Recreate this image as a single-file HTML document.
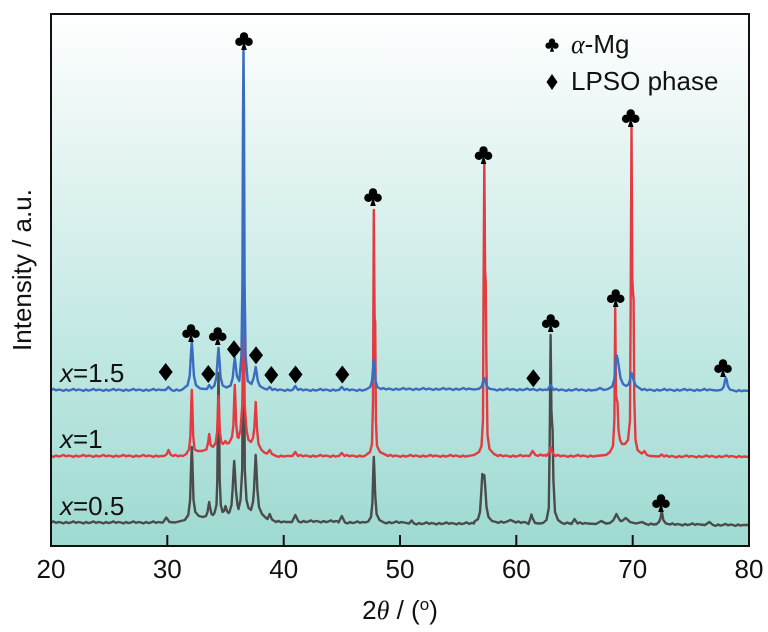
<!DOCTYPE html>
<html><head><meta charset="utf-8">
<style>
html,body{margin:0;padding:0;background:#fff;}
svg{display:block;font-family:"Liberation Sans",Arial,sans-serif;}
</style></head>
<body>
<svg width="768" height="632" viewBox="0 0 768 632" xmlns="http://www.w3.org/2000/svg" xmlns:xlink="http://www.w3.org/1999/xlink">
<defs>
<linearGradient id="g" x1="0" y1="0" x2="0" y2="1">
<stop offset="0" stop-color="#ffffff"/>
<stop offset="0.25" stop-color="#e6f5f3"/>
<stop offset="0.6" stop-color="#c4e9e4"/>
<stop offset="1" stop-color="#9edad1"/>
</linearGradient>
<g id="cl"><circle cx="0" cy="-4.6" r="4.2"/><circle cx="-4.6" cy="0.8" r="4.2"/><circle cx="4.6" cy="0.8" r="4.2"/><circle cx="0" cy="0" r="2.5"/><path d="M0,0 L-2.8,9 L2.8,9Z"/></g>
<path id="dm" d="M0,-9 L7,0 L0,9 L-7,0Z"/>
</defs>
<rect x="51" y="14" width="698" height="532" fill="url(#g)"/>
<g fill="none" stroke-width="2.4" stroke-linejoin="round">
<!-- black x=0.5 -->
<path stroke="#4b4b4b" d="M51,522.5 l2.5,-1.1 2.5,1.5 2.5,-0.9 2.5,0.5 l2.5,0.9 2.5,-1.4 2.5,1.1 2.5,-0.6 l2.5,-1.1 2.5,1.5 2.5,-0.9 2.5,0.5 l2.5,0.9 2.5,-1.4 2.5,1.1 2.5,-0.6 l2.5,-1.1 2.5,1.5 2.5,-0.9 2.5,0.5 l2.5,0.9 2.5,-1.4 2.5,1.1 2.5,-0.6 l2.5,-1.1 2.5,1.5 2.5,-0.9 2.5,0.5 l2.5,0.9 2.5,-1.4 2.5,1.1 2.5,-0.6 l2.5,-1.1 2.5,1.5 2.5,-0.9 2.5,0.5 l2.5,0.9 2.5,-1.4 2.5,1.1 2.5,-0.6 l2.5,-1.1 2.5,1.5 2.5,-0.9 2.5,0.5 L163,522.5 L166.2,517.5 L169.5,522 L175,522.5 L184.8,520 L188.3,515 L190.1,500 L191.2,462 L191.8,447 L192.4,462 L193.5,500 L195.3,512 L198.8,516 L203,517 L206,516 L207.5,512 L208.5,506 L209.2,502 L210,507 L211.5,514 L213,515 L214.5,513 L216.5,505 L217.3,480 L218.1,400 L218.5,373 L218.9,400 L219.7,480 L220.8,505 L222.5,512 L224,511 L225.5,506 L227,511 L228.5,513 L229.5,512 L231.5,505 L232.6,490 L233.6,470 L234.2,461 L234.8,470 L235.9,490 L237.5,505 L238.5,509 L240.5,500 L242.2,470 L243.1,330 L243.5,272 L243.9,330 L244.8,470 L246.5,500 L248.5,508 L251,510 L253,502 L254,490 L255.1,466 L255.7,455 L256.3,466 L257.4,490 L259,507 L262,514 L266,518 L267.5,519 L269.7,514 L272,519.5 L276,522 l2.5,-1.1 2.5,1.5 2.5,-0.9 2.5,0.5 L292,522 L295.3,515 L298.5,521.5 l2.5,0.9 2.5,-1.4 2.5,1.1 2.5,-0.6 l2.5,-1.1 2.5,1.5 2.5,-0.9 2.5,0.5 l2.5,0.9 2.5,-1.4 2.5,1.1 2.5,-0.6 l2.5,-1.1 2.5,1.5 2.5,-0.9 2.5,0.5 L338.5,522.5 L341.8,516 L345,522.5 l2.5,0.9 2.5,-1.4 2.5,1.1 2.5,-0.6 l2.5,-1.1 2.5,1.5 2.5,-0.9 2.5,0.5 L368.2,521.5 L371,517 L372.4,503 L373.3,470 L373.8,457 L374.3,468 L375.2,495 L376.6,514 L379.4,520 L384,522.5 l2.5,0.9 2.5,-1.4 2.5,1.1 2.5,-0.6 l2.5,-1.1 2.5,1.5 2.5,-0.9 2.5,0.5 L409,523.5 L411.6,520.5 L414,523.5 l2.5,0.9 2.5,-1.4 2.5,1.1 2.5,-0.6 l2.5,-1.1 2.5,1.5 2.5,-0.9 2.5,0.5 l2.5,0.9 2.5,-1.4 2.5,1.1 2.5,-0.6 l2.5,-1.1 2.5,1.5 2.5,-0.9 2.5,0.5 l2.5,0.9 2.5,-1.4 2.5,1.1 2.5,-0.6 l2.5,-1.1 2.5,1.5 2.5,-0.9 2.5,0.5 L474,522 L478,519 L480,512 L481.3,492 L482.3,474 L483.3,478 L484.3,475 L485.3,488 L486.5,507 L488.5,517 L492,521 L496,522 l2.5,0.9 2.5,-1.4 2.5,1.1 2.5,-0.6 L510.5,520 L516,522.5 l2.5,-1.1 2.5,1.5 2.5,-0.9 2.5,0.5 L528.5,524 L530.5,518 L531.4,514.5 L532.5,518 L535,523 L539,523.5 L543,523 L546.5,520 L548.8,508 L549.7,440 L550.6,335 L551.4,410 L551.9,420 L552.6,430 L553.4,480 L555,512 L558,520 L562,523 l2.5,0.9 2.5,-1.4 2.5,1.1 2.5,-0.6 L571.5,524 L574.5,519 L577.5,523.5 l2.5,-1.1 2.5,1.5 2.5,-0.9 2.5,0.5 L596,524 L601.2,521 L606,523.5 L610,523 L613.5,520 L616.4,514 L618.5,518 L620.5,521 L622,521 L625.7,518 L628,520 L630,522 L636,523.5 L642,522 L646,524 l2.5,0.9 2.5,-1.4 2.5,1.1 2.5,-0.6 L656,524.5 L659,522 L660.6,518 L661.3,513 L661.7,511 L662.3,514 L663.3,520 L666,523.5 L670,524.5 l2.5,-1.1 2.5,1.5 2.5,-0.9 2.5,0.5 l2.5,0.9 2.5,-1.4 2.5,1.1 2.5,-0.6 l2.5,-1.1 2.5,1.5 2.5,-0.9 2.5,0.5 L705,525 L709.4,522 L713,525 l2.5,0.9 2.5,-1.4 2.5,1.1 2.5,-0.6 l2.5,-1.1 2.5,1.5 2.5,-0.9 2.5,0.5 l2.5,0.9 2.5,-1.4 2.5,1.1 2.5,-0.6 L749,525"/>
<!-- red x=1 -->
<path stroke="#e43a41" d="M51,456 l2.5,0.9 2.5,-1.4 2.5,1.1 2.5,-0.6 l2.5,-1.1 2.5,1.5 2.5,-0.9 2.5,0.5 l2.5,0.9 2.5,-1.4 2.5,1.1 2.5,-0.6 l2.5,-1.1 2.5,1.5 2.5,-0.9 2.5,0.5 l2.5,0.9 2.5,-1.4 2.5,1.1 2.5,-0.6 l2.5,-1.1 2.5,1.5 2.5,-0.9 2.5,0.5 l2.5,0.9 2.5,-1.4 2.5,1.1 2.5,-0.6 l2.5,-1.1 2.5,1.5 2.5,-0.9 2.5,0.5 l2.5,0.9 2.5,-1.4 2.5,1.1 2.5,-0.6 l2.5,-1.1 2.5,1.5 2.5,-0.9 2.5,0.5 l2.5,0.9 2.5,-1.4 2.5,1.1 2.5,-0.6 L164,456 L166.5,454.5 L168.5,450 L170.5,454.5 L173,456 l2.5,-1.1 2.5,1.5 2.5,-0.9 2.5,0.5 L186.2,454 L189,449.4 L190.4,436.2 L191.3,403.2 L191.8,390 L192.3,403.2 L193.2,436.2 L194.6,449.4 L197.4,451 L202,451 L206.4,449.5 L208,443 L208.7,438 L209.2,434 L209.7,438 L210.6,445 L212.9,447 L215.7,443 L217.1,432 L218,408 L218.5,396 L219,408 L219.9,432 L221.3,442 L223,444 L225.5,441 L227,443.5 L229,443 L232,437 L233.4,425 L234.3,397 L234.8,385 L235.3,397 L236.2,425 L237.6,437 L238.5,438 L240.5,430 L242.3,405 L243.1,340 L243.5,300 L243.9,340 L244.7,405 L246.5,430 L248.5,440 L251,442 L253,438 L254.3,428 L255.2,412 L255.7,402 L256.2,412 L257.1,430 L258.5,444 L261.5,450 L265,453 L267,453.5 L269.7,450 L272,454 L276,456 l2.5,0.9 2.5,-1.4 2.5,1.1 2.5,-0.6 L292.5,456 L295.3,452 L298,456 l2.5,-1.1 2.5,1.5 2.5,-0.9 2.5,0.5 l2.5,0.9 2.5,-1.4 2.5,1.1 2.5,-0.6 l2.5,-1.1 2.5,1.5 2.5,-0.9 2.5,0.5 l2.5,0.9 2.5,-1.4 2.5,1.1 2.5,-0.6 L339,456 L341.8,453 L344.5,456 l2.5,-1.1 2.5,1.5 2.5,-0.9 2.5,0.5 l2.5,0.9 2.5,-1.4 2.5,1.1 2.5,-0.6 L366,455 L370,452 L372,444 L373,400 L373.8,210 L374.6,318 L375.2,322 L375.9,420 L377,446 L380,452 L384,454 L388,456 l2.5,-1.1 2.5,1.5 2.5,-0.9 2.5,0.5 l2.5,0.9 2.5,-1.4 2.5,1.1 2.5,-0.6 l2.5,-1.1 2.5,1.5 2.5,-0.9 2.5,0.5 l2.5,0.9 2.5,-1.4 2.5,1.1 2.5,-0.6 l2.5,-1.1 2.5,1.5 2.5,-0.9 2.5,0.5 l2.5,0.9 2.5,-1.4 2.5,1.1 2.5,-0.6 l2.5,-1.1 2.5,1.5 2.5,-0.9 2.5,0.5 l2.5,0.9 2.5,-1.4 2.5,1.1 2.5,-0.6 L474,455 L479,452 L481.5,446 L483,420 L483.5,300 L484.3,161 L485.1,270 L485.7,282 L486.4,360 L487.5,435 L489.5,449 L494,454 L498,456 l2.5,-1.1 2.5,1.5 2.5,-0.9 2.5,0.5 l2.5,0.9 2.5,-1.4 2.5,1.1 2.5,-0.6 l2.5,-1.1 2.5,1.5 2.5,-0.9 2.5,0.5 L529.5,456 L532.6,451 L535.5,455 l2.5,0.9 2.5,-1.4 2.5,1.1 2.5,-0.6 L546,456 L549,453 L550.6,447 L552.5,453 L555.5,456 l2.5,-1.1 2.5,1.5 2.5,-0.9 2.5,0.5 l2.5,0.9 2.5,-1.4 2.5,1.1 2.5,-0.6 l2.5,-1.1 2.5,1.5 2.5,-0.9 2.5,0.5 l2.5,0.9 2.5,-1.4 2.5,1.1 2.5,-0.6 L606,455 L610,452 L613,446 L614.4,420 L615.2,308 L616,395 L616.8,400 L617.5,402 L618.5,430 L620,440 L622,444 L625,444 L628,440 L630,420 L630.7,300 L631.5,125 L632.3,280 L632.9,290 L633.6,300 L634.3,400 L635.5,440 L637.5,450 L641,453 L642,453.5 L644.3,451 L647,455 L650,456 L659,456.5 L661.7,454.5 L664,456.5 l2.5,-1.1 2.5,1.5 2.5,-0.9 2.5,0.5 l2.5,0.9 2.5,-1.4 2.5,1.1 2.5,-0.6 l2.5,-1.1 2.5,1.5 2.5,-0.9 2.5,0.5 l2.5,0.9 2.5,-1.4 2.5,1.1 2.5,-0.6 l2.5,-1.1 2.5,1.5 2.5,-0.9 2.5,0.5 l2.5,0.9 2.5,-1.4 2.5,1.1 2.5,-0.6 l2.5,-1.1 2.5,1.5 2.5,-0.9 2.5,0.5 l2.5,0.9 2.5,-1.4 2.5,1.1 2.5,-0.6 L749,457"/>
<!-- blue x=1.5 -->
<path stroke="#3a6cc2" d="M51,390 l2.5,-1.1 2.5,1.5 2.5,-0.9 2.5,0.5 l2.5,0.9 2.5,-1.4 2.5,1.1 2.5,-0.6 l2.5,-1.1 2.5,1.5 2.5,-0.9 2.5,0.5 l2.5,0.9 2.5,-1.4 2.5,1.1 2.5,-0.6 l2.5,-1.1 2.5,1.5 2.5,-0.9 2.5,0.5 l2.5,0.9 2.5,-1.4 2.5,1.1 2.5,-0.6 l2.5,-1.1 2.5,1.5 2.5,-0.9 2.5,0.5 l2.5,0.9 2.5,-1.4 2.5,1.1 2.5,-0.6 l2.5,-1.1 2.5,1.5 2.5,-0.9 2.5,0.5 l2.5,0.9 2.5,-1.4 2.5,1.1 2.5,-0.6 l2.5,-1.1 2.5,1.5 2.5,-0.9 2.5,0.5 L165.5,390 L168.5,387 L171.5,390 l2.5,0.9 2.5,-1.4 2.5,1.1 2.5,-0.6 L183.4,388.6 L187.6,385.2 L189.7,375.6 L191.1,351.6 L191.8,342 L192.5,351.6 L193.9,375.6 L196,385.2 L200.2,388.6 L205,389 L207,389 L209.2,385 L211.5,388.5 L214.3,385.8 L216.4,377.4 L217.8,356.4 L218.5,348 L219.2,356.4 L220.6,377.4 L222.7,385.5 L226.4,387.5 L230.6,385.5 L232.7,378 L234.1,363.5 L234.8,358 L235.5,363.5 L236.9,376 L239.3,381 L241.4,356 L242.4,284 L243,115 L243.5,46 L244,115 L244.6,284 L245.6,356 L247.7,381 L251.5,384 L253.6,378 L255,371 L255.7,367 L256.4,371 L257.8,381 L259.9,386 L264,388.5 L267,389.5 L269.7,387 L272.5,390 l2.5,-1.1 2.5,1.5 2.5,-0.9 2.5,0.5 l2.5,0.9 2.5,-1.4 2.5,1.1 2.5,-0.6 L295.3,386 L298,390 l2.5,-1.1 2.5,1.5 2.5,-0.9 2.5,0.5 l2.5,0.9 2.5,-1.4 2.5,1.1 2.5,-0.6 l2.5,-1.1 2.5,1.5 2.5,-0.9 2.5,0.5 l2.5,0.9 2.5,-1.4 2.5,1.1 2.5,-0.6 L339,390 L341.8,387 L344.5,390 l2.5,-1.1 2.5,1.5 2.5,-0.9 2.5,0.5 l2.5,0.9 2.5,-1.4 2.5,1.1 2.5,-0.6 L366.6,389.1 L370.2,387 L372,381 L373.2,366 L373.8,360 L374.4,366 L375.6,381 L377.4,387 L381,389.1 l2.5,-1.1 2.5,1.5 2.5,-0.9 2.5,0.5 l2.5,0.9 2.5,-1.4 2.5,1.1 2.5,-0.6 l2.5,-1.1 2.5,1.5 2.5,-0.9 2.5,0.5 l2.5,0.9 2.5,-1.4 2.5,1.1 2.5,-0.6 l2.5,-1.1 2.5,1.5 2.5,-0.9 2.5,0.5 l2.5,0.9 2.5,-1.4 2.5,1.1 2.5,-0.6 l2.5,-1.1 2.5,1.5 2.5,-0.9 2.5,0.5 l2.5,0.9 2.5,-1.4 2.5,1.1 2.5,-0.6 l2.5,-1.1 2.5,1.5 2.5,-0.9 2.5,0.5 L473.8,389.6 L479,388.8 L481.7,386.4 L483.4,380.4 L484.3,378 L485.2,380.4 L486.9,386.4 L489.6,388.8 L494.8,389.6 l2.5,0.9 2.5,-1.4 2.5,1.1 2.5,-0.6 l2.5,-1.1 2.5,1.5 2.5,-0.9 2.5,0.5 l2.5,0.9 2.5,-1.4 2.5,1.1 2.5,-0.6 l2.5,-1.1 2.5,1.5 2.5,-0.9 2.5,0.5 l2.5,0.9 2.5,-1.4 2.5,1.1 2.5,-0.6 L547.5,390 L550.6,385 L553.7,390 l2.5,-1.1 2.5,1.5 2.5,-0.9 2.5,0.5 l2.5,0.9 2.5,-1.4 2.5,1.1 2.5,-0.6 l2.5,-1.1 2.5,1.5 2.5,-0.9 2.5,0.5 l2.5,0.9 2.5,-1.4 2.5,1.1 2.5,-0.6 L596,390 L600,388 L604,390 L608,389 L612.2,386.5 L614.3,379.5 L615.7,362 L616.4,355 L617.5,358 L618.7,366 L620.5,378 L623,384 L626,386 L628.5,384.5 L630,380 L630.8,376 L631.5,373 L632.5,375 L633.5,380 L635.7,385.5 L640,388.5 L642,390 l2.5,-1.1 2.5,1.5 2.5,-0.9 2.5,0.5 l2.5,0.9 2.5,-1.4 2.5,1.1 2.5,-0.6 l2.5,-1.1 2.5,1.5 2.5,-0.9 2.5,0.5 l2.5,0.9 2.5,-1.4 2.5,1.1 2.5,-0.6 l2.5,-1.1 2.5,1.5 2.5,-0.9 2.5,0.5 l2.5,0.9 2.5,-1.4 2.5,1.1 2.5,-0.6 l2.5,-1.1 2.5,1.5 2.5,-0.9 2.5,0.5 L717.3,390.6 L721.5,389.7 L723.6,387 L725,380.6 L725.7,377.6 L726.7,380 L727.8,386 L729.9,389.5 L734,390.6 l2.5,0.9 2.5,-1.4 2.5,1.1 2.5,-0.6 L749,391"/>
</g>
<g fill="#000">
<use href="#cl" xlink:href="#cl" x="244" y="41"/>
<use href="#cl" xlink:href="#cl" x="373" y="197"/>
<use href="#cl" xlink:href="#cl" x="483.5" y="155"/>
<use href="#cl" xlink:href="#cl" x="630.7" y="118"/>
<use href="#cl" xlink:href="#cl" x="615.7" y="298"/>
<use href="#cl" xlink:href="#cl" x="550.7" y="323"/>
<use href="#cl" xlink:href="#cl" x="723" y="368"/>
<use href="#cl" xlink:href="#cl" x="661" y="503"/>
<use href="#cl" xlink:href="#cl" x="191" y="333"/>
<use href="#cl" xlink:href="#cl" x="217.7" y="336"/>
<use href="#dm" xlink:href="#dm" x="165.7" y="372"/>
<use href="#dm" xlink:href="#dm" x="208.3" y="374"/>
<use href="#dm" xlink:href="#dm" x="234" y="349.3"/>
<use href="#dm" xlink:href="#dm" x="256" y="355.3"/>
<use href="#dm" xlink:href="#dm" x="271.3" y="375"/>
<use href="#dm" xlink:href="#dm" x="295.5" y="374.5"/>
<use href="#dm" xlink:href="#dm" x="342.3" y="374.5"/>
<use href="#dm" xlink:href="#dm" x="533.3" y="378.3"/>
<g transform="translate(552,45) scale(0.75)"><use href="#cl" xlink:href="#cl"/></g>
<path d="M552,74 L557.5,82 L552,90 L546.5,82Z"/>
</g>
<rect x="51" y="14" width="698" height="532" fill="none" stroke="#111" stroke-width="2"/>
<g stroke="#111" stroke-width="2">
<line x1="167.3" y1="545" x2="167.3" y2="535"/>
<line x1="283.7" y1="545" x2="283.7" y2="535"/>
<line x1="400" y1="545" x2="400" y2="535"/>
<line x1="516.3" y1="545" x2="516.3" y2="535"/>
<line x1="632.7" y1="545" x2="632.7" y2="535"/>
</g>
<g font-size="26" fill="#111" text-anchor="middle">
<text x="51" y="578">20</text>
<text x="167.3" y="578">30</text>
<text x="283.7" y="578">40</text>
<text x="400" y="578">50</text>
<text x="516.3" y="578">60</text>
<text x="632.7" y="578">70</text>
<text x="749" y="578">80</text>
<text x="400" y="619">2<tspan font-family="Liberation Serif" font-style="italic">θ</tspan> / (<tspan font-size="17" dy="-9">o</tspan><tspan dy="9">)</tspan></text>
<text transform="translate(31,270) rotate(-90)">Intensity / a.u.</text>
</g>
<g font-size="26" fill="#111">
<text x="60" y="382"><tspan font-style="italic">x</tspan>=1.5</text>
<text x="60" y="448"><tspan font-style="italic">x</tspan>=1</text>
<text x="60" y="515"><tspan font-style="italic">x</tspan>=0.5</text>
<text x="571" y="53"><tspan font-family="Liberation Serif" font-style="italic">α</tspan>-Mg</text>
<text x="571" y="90">LPSO phase</text>
</g>
</svg>
</body></html>
